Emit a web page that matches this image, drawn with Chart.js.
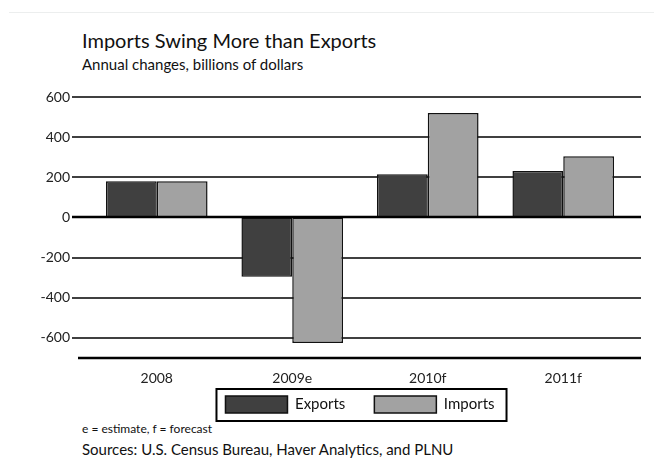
<!DOCTYPE html>
<html>
<head>
<meta charset="utf-8">
<script src="https://cdn.jsdelivr.net/npm/chart.js@4"></script>
<style>
  body { margin: 0; background: #fff; font-family: Lato, "Open Sans", sans-serif; color: #111; }
  #wrap { position: relative; width: 654px; height: 472px; overflow: hidden; }
  #rule { position: absolute; left: 9px; right: 0; top: 12px; border-top: 1px solid #eceeee; }
  .txt { position: absolute; left: 82px; line-height: 1; white-space: nowrap; }
  #title { top: 30px; font-size: 20px; }
  #subtitle { top: 57px; font-size: 15px; }
  #note { top: 423px; font-size: 12px; }
  #sources { top: 442px; font-size: 15px; }
  #box { position: absolute; left: 0; top: 0; width: 654px; height: 472px; }
</style>
</head>
<body>
<div id="wrap">
  <div id="rule"></div>
  <div id="title" class="txt">Imports Swing More than Exports</div>
  <div id="subtitle" class="txt">Annual changes, billions of dollars</div>
  <div id="note" class="txt">e = estimate, f = forecast</div>
  <div id="sources" class="txt">Sources: U.S. Census Bureau, Haver Analytics, and PLNU</div>
  <div id="box"><canvas id="tradeChart"></canvas></div>
</div>
<script>
// values, billions of dollars
const years = ["2008", "2009e", "2010f", "2011f"];
const exportsChange = [180, -295, 215, 232];
const importsChange = [180, -625, 520, 305];
const yTicks = [-600, -400, -200, 0, 200, 400, 600];

// grid lines run a bit past the plot area, like the original
const wideGrid = {
    id: "wideGrid",
    beforeDatasetsDraw(chart) {
        const { ctx, chartArea, scales } = chart;
        ctx.save();
        ctx.lineWidth = 2;
        ctx.strokeStyle = "#404040";
        yTicks.forEach(v => {
            if (v === 0) return;
            const y = Math.round(scales.y.getPixelForValue(v));
            ctx.beginPath();
            ctx.moveTo(chartArea.left - 17, y);
            ctx.lineTo(chartArea.right + 10, y);
            ctx.stroke();
        });
        ctx.restore();
    },
    afterDatasetsDraw(chart) {
        const { ctx, chartArea, scales } = chart;
        ctx.save();
        ctx.strokeStyle = "#000";
        ctx.lineWidth = 2.5;
        const y0 = Math.round(scales.y.getPixelForValue(0));
        ctx.beginPath();
        ctx.moveTo(chartArea.left - 17, y0);
        ctx.lineTo(chartArea.right + 10, y0);
        ctx.stroke();
        const yb = chartArea.bottom;
        ctx.beginPath();
        ctx.moveTo(chartArea.left - 11, yb);
        ctx.lineTo(chartArea.right + 10, yb);
        ctx.stroke();
        ctx.restore();
    }
};

// pull the legend up under the year labels and put a box round it
const legendFrame = {
    id: "legendFrame",
    afterLayout(chart) {
        const lg = chart.legend;
        if (!lg) return;
        const h = lg.height;
        lg.top = chart.chartArea.bottom + 9;
        lg.bottom = lg.top + h;
    },
    afterDraw(chart) {
        const boxes = chart.legend && chart.legend.legendHitBoxes;
        if (!boxes || !boxes.length) return;
        const left = Math.min(...boxes.map(b => b.left));
        const right = Math.max(...boxes.map(b => b.left + b.width));
        const top = Math.min(...boxes.map(b => b.top));
        const ctx = chart.ctx;
        ctx.save();
        ctx.strokeStyle = "#000";
        ctx.lineWidth = 2;
        ctx.strokeRect(left - 9, top - 7, right - left + 21, 32);
        ctx.restore();
    }
};

new Chart(document.getElementById("tradeChart"), {
    type: "bar",
    data: {
        labels: years,
        datasets: [{
            label: "Exports",
            data: exportsChange,
            backgroundColor: "#404040",
            borderColor: "#111",
            borderWidth: 1.5,
            borderSkipped: false
        }, {
            label: "Imports",
            data: importsChange,
            backgroundColor: "#a2a2a2",
            borderColor: "#111",
            borderWidth: 1.5,
            borderSkipped: false
        }]
    },
    options: {
        responsive: true,
        maintainAspectRatio: false,
        animation: false,
        events: [],
        layout: { padding: { top: 97, right: 23, bottom: 28, left: 0 } },
        datasets: { bar: { categoryPercentage: 0.75, barPercentage: 1.0 } },
        scales: {
            x: {
                grid: { display: false, drawTicks: false },
                border: { display: false },
                ticks: { padding: 12, color: "#222", font: { family: "Lato", size: 14 } },
                afterFit(scale) { scale.height = 30; }
            },
            y: {
                min: -700,
                max: 600,
                grid: { display: false, drawTicks: false },
                border: { display: false },
                afterBuildTicks(scale) { scale.ticks = yTicks.map(v => ({ value: v })); },
                afterFit(scale) { scale.width = 89; },
                ticks: { padding: 19, color: "#222", font: { family: "Lato", size: 14 } }
            }
        },
        plugins: {
            legend: {
                position: "bottom",
                fullSize: false,
                labels: {
                    boxWidth: 62,
                    boxHeight: 17,
                    padding: 29,
                    color: "#111",
                    font: { family: "Lato", size: 15 }
                }
            },
            tooltip: { enabled: false }
        }
    },
    plugins: [wideGrid, legendFrame]
});
</script>
</body>
</html>
